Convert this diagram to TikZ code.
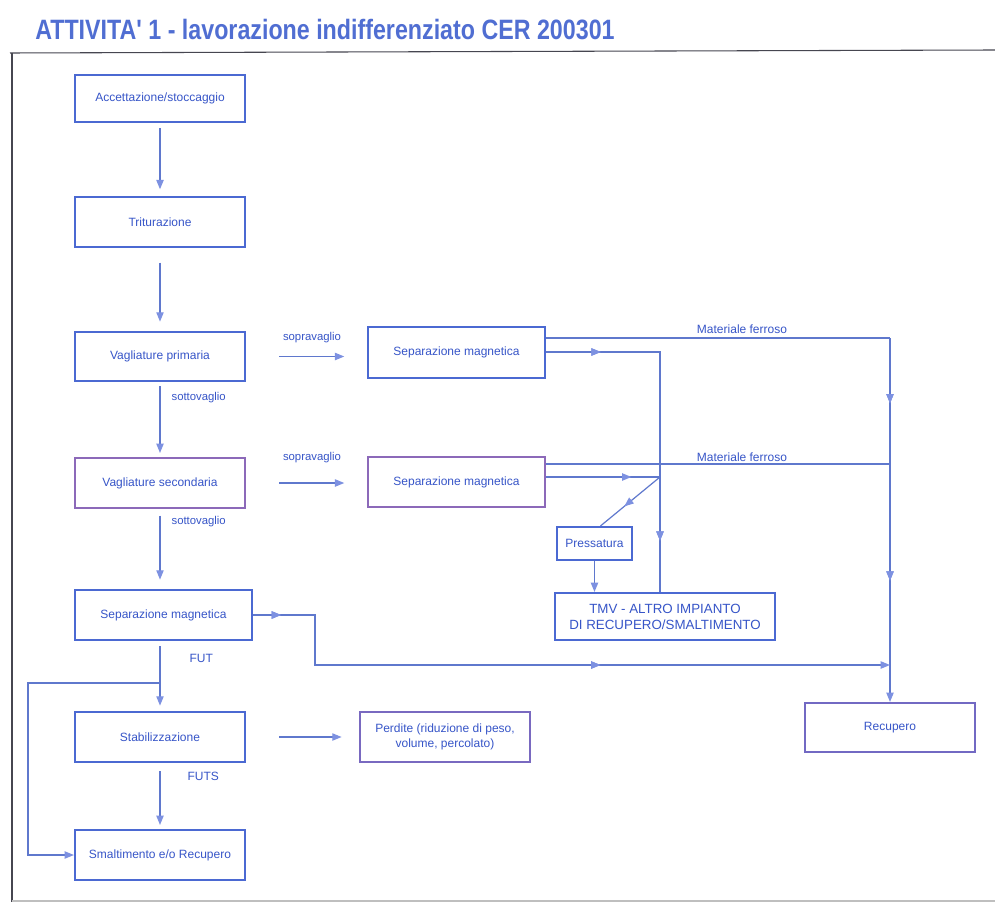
\documentclass[tikz,border=0pt]{standalone}
\usepackage{fontspec}
\setmainfont{Liberation Sans}
\newfontfamily\titlefont{Liberation Sans}[FakeStretch=0.83]
\usetikzlibrary{arrows.meta,decorations.markings,calc}

\definecolor{inkblue}{RGB}{55,85,200}
\definecolor{linecol}{RGB}{95,120,205}
\definecolor{tipcol}{RGB}{125,145,225}
\definecolor{boxcol}{RGB}{75,105,210}
\definecolor{mauve}{RGB}{140,105,185}
\definecolor{framecol}{RGB}{70,70,80}
\definecolor{titlecol}{RGB}{80,110,210}

\tikzset{
  x=0.75pt, y=-0.75pt,
  box/.style={draw=boxcol, line width=1.6pt, inner sep=1pt, align=center,
    font=\fontsize{9}{11}\selectfont, text=inkblue},
  lbl/.style={font=\fontsize{8.5}{10}\selectfont, text=inkblue, inner sep=1pt},
  line/.style={draw=linecol, line width=0.9pt},
  tiphead/.style={-{Triangle[length=7pt,width=5.5pt,color=tipcol]}},
  flow/.style={line, tiphead},
  midtip/.style={postaction={decorate}, decoration={markings,
    mark=at position #1 with {\arrow{Triangle[length=7pt,width=5.5pt,color=tipcol]}}}},
}

% \fbx[options]{name}{x1}{y1}{x2}{y2}{text}: box given by its corners in pixel units
\newcommand\fbx[7][]{%
  \node[box,#1,minimum width={(#5-#3)*0.75pt},minimum height={(#6-#4)*0.75pt}]
    (#2) at ({(#3+#5)/2},{(#4+#6)/2}) {#7};}

\begin{document}
\begin{tikzpicture}
\useasboundingbox (0,0) rectangle (995,909);
\fill[white] (0,0) rectangle (995,909);

% title
\node[anchor=base west, inner sep=0, text=titlecol] (title) at (35,40)
  {\titlefont\bfseries\fontsize{21}{24}\selectfont ATTIVITA' 1 - lavorazione indifferenziato CER 200301};

% page frame
\draw[framecol, line width=0.8pt] (10,53) -- (995,50);
\draw[framecol, line width=0.8pt] (12,53) -- (12,902);
\draw[black!25, line width=1.5pt] (12,901) -- (995,901);

% main column
\fbx{acc}{75}{75}{245}{122}{Accettazione/stoccaggio}
\fbx{trit}{75}{197}{245}{247}{Triturazione}
\fbx{vprim}{75}{332}{245}{381}{Vagliature primaria}
\fbx[draw=mauve]{vsec}{75}{458}{245}{508}{Vagliature secondaria}
\fbx{smL}{75}{590}{252}{640}{Separazione magnetica}
\fbx{stab}{75}{712}{245}{762}{Stabilizzazione}
\fbx{smalt}{75}{830}{245}{880}{Smaltimento e/o Recupero}

% side branches
\fbx{smT}{368}{327}{545}{378}{Separazione magnetica}
\fbx[draw=mauve]{smM}{368}{457}{545}{507}{Separazione magnetica}
\fbx{press}{557}{527}{632}{560}{Pressatura}
\fbx[font=\fontsize{10}{12}\selectfont]{tmv}{555}{593}{775}{640}{TMV - ALTRO IMPIANTO\\DI RECUPERO/SMALTIMENTO}
\fbx[draw=mauve!70!boxcol]{perd}{360}{712}{530}{762}{Perdite (riduzione di peso,\\volume, percolato)}
\fbx[draw=mauve!60!boxcol]{rec}{805}{703}{975}{752}{Recupero}

% vertical flow
\draw[flow, shorten <=4pt, shorten >=5pt] (acc) -- (trit);
\draw[flow, shorten <=11pt, shorten >=7pt] (trit) -- (vprim);
\draw[flow, shorten <=3pt, shorten >=3pt] (vprim) -- (vsec);
\draw[flow, shorten <=5pt, shorten >=7pt] (vsec.south) -- (vsec.south |- smL.north);
\draw[flow, shorten <=4pt, shorten >=4pt] (vsec.south |- smL.south) -- (stab.north);
\draw[flow, shorten <=6pt, shorten >=3pt] (stab) -- (smalt);

\node[lbl, anchor=west] (sv1) at (170,398) {sottovaglio};
\node[lbl, anchor=west] (sv2) at (170,522) {sottovaglio};
\node[lbl, anchor=west, font=\fontsize{9}{10}\selectfont] (fut) at (188,658) {FUT};
\node[lbl, anchor=west, font=\fontsize{9}{10}\selectfont] (futs) at (186,776) {FUTS};

% bypass to disposal
\coordinate (byp) at (160,683);
\coordinate (bl) at (28,683);
\draw[flow] (byp) -- (bl) |- (smalt.west);

% oversize fractions
\draw[flow, shorten <=25pt, shorten >=17pt] (vprim.east) -- (vprim.east -| smT.west);
\node[lbl] (sp1) at (312,338) {sopravaglio};
\draw[flow, shorten <=25pt, shorten >=17pt] (vsec.east) -- (vsec.east -| smM.west);
\node[lbl] (sp2) at (312,458) {sopravaglio};
\draw[flow, shorten <=25pt, shorten >=13pt] (stab.east) -- (stab.east -| perd.west);

% ferrous material to recovery
\coordinate (f1) at (890,338);
\coordinate (f2) at (890,464);
\draw[line] (smT.east |- f1) -- (f1);
\draw[line, midtip=49pt, midtip=182pt, tiphead] (f1) -- (rec.north);
\draw[line] (smM.east |- f2) -- (f2);
\node[lbl, font=\fontsize{9}{10}\selectfont] (mf1) at (742,329) {Materiale ferroso};
\node[lbl, font=\fontsize{9}{10}\selectfont] (mf2) at (742,457) {Materiale ferroso};

% residues to other plant
\coordinate (s1) at (660,352);
\coordinate (j) at (660,477);
\draw[line, midtip=41pt, midtip=227pt] (smT.east |- s1) -- (s1) -- (s1 |- tmv.north);
\draw[line, midtip=64pt] (smM.east |- j) -- (j);
\draw[line, midtip=0.6] (j) -- ($(press.north)+(6,0)$);
\draw[flow] (press.south) -- (press.south |- tmv.north);

% magnetic separation of the main line to recovery
\coordinate (g2) at (315,665);
\coordinate (g3) at (890,665);
\draw[line, midtip=21pt, midtip=298pt, tiphead]
  (smL.east) -- (smL.east -| g2) -- (g2) -- (g3);

\end{tikzpicture}
\end{document}
